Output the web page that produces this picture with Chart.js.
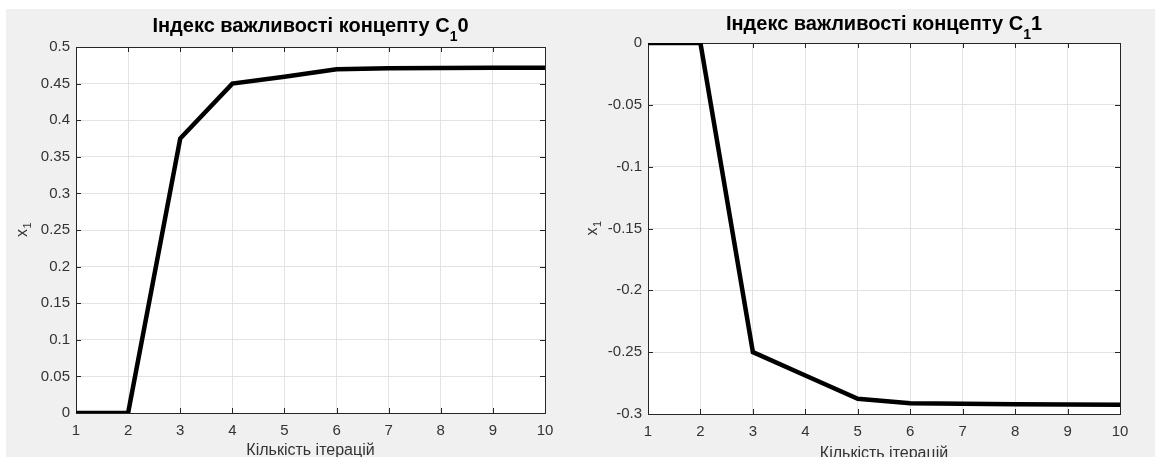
<!DOCTYPE html>
<html>
<head>
<meta charset="utf-8">
<script src="https://cdn.jsdelivr.net/npm/chart.js@4.4.1/dist/chart.umd.min.js"></script>
<style>
  html, body { margin: 0; padding: 0; background: #ffffff; }
  body { width: 1155px; height: 457px; position: relative; overflow: hidden; }
  #figure { position: absolute; left: 6px; top: 9px; width: 1149px; height: 448px; background: #f0f0f0; }
  .panel { position: absolute; top: 0; height: 448px; }
  #p0 { left: 0; width: 574px; }
  #p1 { left: 574px; width: 575px; }
</style>
</head>
<body>
<div id="figure">
  <div class="panel" id="p0"><canvas id="c0"></canvas></div>
  <div class="panel" id="p1"><canvas id="c1"></canvas></div>
</div>
<script>
// Iteration numbers along the x axis
const iterations = [1, 2, 3, 4, 5, 6, 7, 8, 9, 10];

// Concept importance values per iteration
const conceptC10 = [0, 0, 0.375, 0.45, 0.4595, 0.4695, 0.471, 0.4713, 0.4715, 0.4716];
const conceptC11 = [0, 0, -0.25, -0.2689, -0.2877, -0.2913, -0.2918, -0.2922, -0.2924, -0.2925];

// Tick values
const xTicks = [1, 2, 3, 4, 5, 6, 7, 8, 9, 10];
const yTicksC10 = [0, 0.05, 0.1, 0.15, 0.2, 0.25, 0.3, 0.35, 0.4, 0.45, 0.5];
const yTicksC11 = [-0.3, -0.25, -0.2, -0.15, -0.1, -0.05, 0];

// Text: title parts are [main text, subscript, trailing text]
const titleC10 = ['Індекс важливості концепту C', '1', '0'];
const titleC11 = ['Індекс важливості концепту C', '1', '1'];
const xAxisTitle = 'Кількість ітерацій';
const yAxisTitle = ['x', '1'];

const FONT = "'Liberation Sans', Arial, Helvetica, sans-serif";
const TEXT_COLOR = '#333333';

// White plot box with inward tick marks on all four sides
const axesBox = {
  id: 'axesBox',
  beforeDraw(chart) {
    const a = chart.chartArea, ctx = chart.ctx;
    ctx.save();
    ctx.fillStyle = '#ffffff';
    ctx.fillRect(a.left, a.top, a.right - a.left, a.bottom - a.top);
    ctx.restore();
  },
  beforeDatasetsDraw(chart) {
    const a = chart.chartArea, ctx = chart.ctx;
    const xs = chart.scales.x, ys = chart.scales.y;
    const L = 5;
    ctx.save();
    ctx.strokeStyle = '#262626';
    ctx.lineWidth = 1;
    ctx.beginPath();
    xs.ticks.forEach(t => {
      const px = Math.round(xs.getPixelForValue(t.value)) + 0.5;
      ctx.moveTo(px, a.bottom); ctx.lineTo(px, a.bottom - L);
      ctx.moveTo(px, a.top); ctx.lineTo(px, a.top + L);
    });
    ys.ticks.forEach(t => {
      const py = Math.round(ys.getPixelForValue(t.value)) + 0.5;
      ctx.moveTo(a.left, py); ctx.lineTo(a.left + L, py);
      ctx.moveTo(a.right, py); ctx.lineTo(a.right - L, py);
    });
    ctx.stroke();
    ctx.strokeRect(Math.round(a.left) + 0.5, Math.round(a.top) + 0.5,
                   Math.round(a.right - a.left), Math.round(a.bottom - a.top));
    ctx.restore();
  }
};

// Title and y-axis label with a lowered subscript digit
const subscriptText = {
  id: 'subscriptText',
  afterDraw(chart, args, opts) {
    const a = chart.chartArea, ctx = chart.ctx;
    ctx.save();
    // chart title
    const [main, sub, tail] = opts.title;
    const bigFont = 'bold 20px ' + FONT;
    const smallFont = 'bold 14px ' + FONT;
    ctx.font = bigFont;
    const wMain = ctx.measureText(main).width;
    const wTail = ctx.measureText(tail).width;
    ctx.font = smallFont;
    const wSub = ctx.measureText(sub).width;
    let x = (a.left + a.right) / 2 - (wMain + wSub + wTail) / 2;
    const y = opts.titleBaseline;
    ctx.fillStyle = '#000000';
    ctx.textBaseline = 'alphabetic';
    ctx.textAlign = 'left';
    ctx.font = bigFont;
    ctx.fillText(main, x, y);
    x += wMain;
    ctx.font = smallFont;
    ctx.fillText(sub, x, y + 9);
    x += wSub;
    ctx.font = bigFont;
    ctx.fillText(tail, x, y);

    // y-axis label, rotated
    const [yl, ys] = opts.yLabel;
    ctx.translate(opts.yLabelBaseline, (a.top + a.bottom) / 2);
    ctx.rotate(-Math.PI / 2);
    ctx.fillStyle = TEXT_COLOR;
    ctx.font = '16px ' + FONT;
    const wx = ctx.measureText(yl).width;
    ctx.font = '11px ' + FONT;
    const ws = ctx.measureText(ys).width;
    let yx = -(wx + ws) / 2;
    ctx.font = '16px ' + FONT;
    ctx.fillText(yl, yx, 0);
    ctx.font = '11px ' + FONT;
    ctx.fillText(ys, yx + wx + 0.5, 4);
    ctx.restore();
  }
};

function makeChart(canvasId, values, yTicks, title, box) {
  const points = iterations.map((x, i) => ({ x: x, y: values[i] }));
  return new Chart(document.getElementById(canvasId), {
    type: 'line',
    data: {
      datasets: [{
        data: points,
        borderColor: '#000000',
        borderWidth: 4.5,
        pointRadius: 0,
        pointHoverRadius: 0,
        tension: 0,
        fill: false,
        borderCapStyle: 'butt',
        borderJoinStyle: 'miter'
      }]
    },
    options: {
      responsive: true,
      maintainAspectRatio: false,
      animation: false,
      events: [],
      layout: { padding: { left: 0, right: box.padRight, top: box.padTop, bottom: 0 } },
      plugins: {
        legend: { display: false },
        tooltip: { enabled: false },
        title: { display: false },
        subscriptText: {
          title: title,
          titleBaseline: box.titleBaseline,
          yLabel: yAxisTitle,
          yLabelBaseline: box.yLabelBaseline
        }
      },
      scales: {
        x: {
          type: 'linear',
          min: xTicks[0],
          max: xTicks[xTicks.length - 1],
          afterBuildTicks(scale) { scale.ticks = xTicks.map(v => ({ value: v })); },
          afterFit(scale) { scale.height = box.xHeight; },
          ticks: {
            color: TEXT_COLOR,
            font: { family: FONT, size: 15 },
            padding: 9,
            maxRotation: 0,
            autoSkip: false,
            callback: v => String(v)
          },
          grid: { color: '#e3e3e3', lineWidth: 1, drawTicks: false },
          border: { display: false },
          title: {
            display: true,
            text: xAxisTitle,
            color: TEXT_COLOR,
            font: { family: FONT, size: 16, lineHeight: 1.2 },
            padding: { top: 0, bottom: box.xTitlePad }
          }
        },
        y: {
          type: 'linear',
          min: yTicks[0],
          max: yTicks[yTicks.length - 1],
          afterBuildTicks(scale) { scale.ticks = yTicks.map(v => ({ value: v })); },
          afterFit(scale) { scale.width = box.yWidth; },
          ticks: {
            color: TEXT_COLOR,
            font: { family: FONT, size: 15 },
            padding: 6,
            autoSkip: false,
            callback: v => String(v)
          },
          grid: { color: '#e3e3e3', lineWidth: 1, drawTicks: false },
          border: { display: false },
          title: { display: false }
        }
      }
    },
    plugins: [axesBox, subscriptText]
  });
}

makeChart('c0', conceptC10, yTicksC10, titleC10,
  { padRight: 35, padTop: 38, xHeight: 44, yWidth: 70, titleBaseline: 23, yLabelBaseline: 21, xTitlePad: -3 });
makeChart('c1', conceptC11, yTicksC11, titleC11,
  { padRight: 35, padTop: 34, xHeight: 43, yWidth: 68, titleBaseline: 21.4, yLabelBaseline: 17, xTitlePad: -6 });
</script>
</body>
</html>
